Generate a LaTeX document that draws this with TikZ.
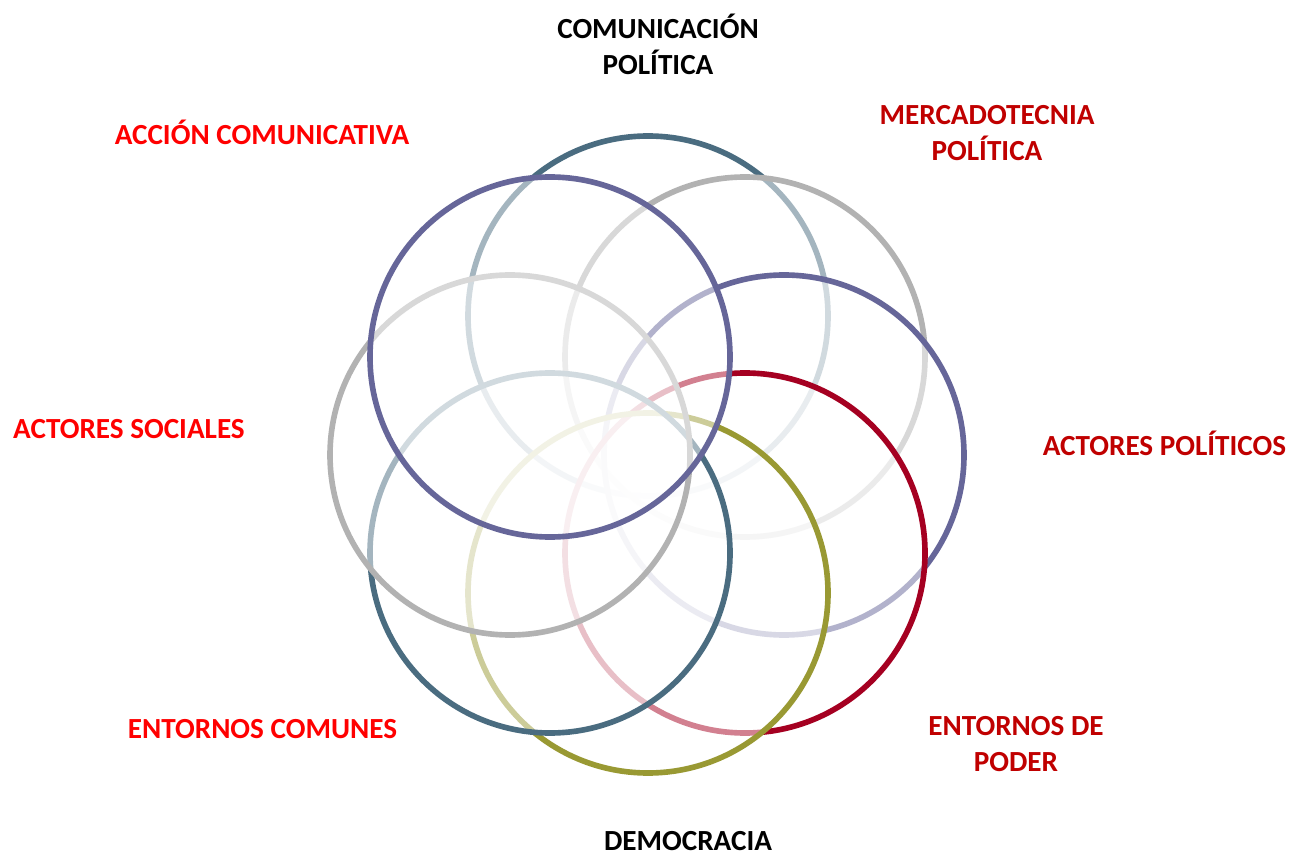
\documentclass[tikz,border=0pt]{standalone}
\usepackage{fontspec}
\setmainfont{Carlito}
\definecolor{ringteal}{RGB}{74,108,128}
\definecolor{ringgray}{RGB}{178,178,178}
\definecolor{ringpurple}{RGB}{102,102,153}
\definecolor{ringred}{RGB}{165,0,33}
\definecolor{ringolive}{RGB}{153,153,51}
\definecolor{labelred}{RGB}{255,0,0}
\definecolor{labeldark}{RGB}{192,0,0}
\usetikzlibrary{positioning}

\tikzset{
  ring/.style={circle, minimum size=3.6cm, inner sep=0pt, line width=1.6pt,
    fill=white, fill opacity=0.5, draw=#1},
  tag/.style={font=\fontsize{8.3}{10.2}\selectfont\bfseries, align=center, inner sep=0pt}
}

\begin{document}
\begin{tikzpicture}
    \useasboundingbox (0,0) rectangle (13.02,8.57);

    % rings, drawn clockwise from the top
    \node[ring=ringteal]   (comunicacion) at (6.48,5.41) {};
    \node[ring=ringgray]   (mercadotecnia) at (7.45,5.0) {};
    \node[ring=ringpurple] (politicos) at (7.84,4.02) {};
    \node[ring=ringred]    (poder) at (7.45,3.04) {};
    \node[ring=ringolive]  (democracia) at (6.48,2.64) {};
    \node[ring=ringteal]   (comunes) at (5.5,3.04) {};
    \node[ring=ringgray]   (sociales) at (5.1,4.02) {};
    \node[ring=ringpurple] (accion) at (5.5,5.0) {};

    % labels
    \node[tag, black] (t-comunicacion) at (6.58,8.13) {COMUNICACIÓN\\POLÍTICA};
    \node[tag, labeldark] (t-mercadotecnia) at (9.87,7.24) {MERCADOTECNIA\\POLÍTICA};
    \node[tag, labelred] (t-accion) at (2.62,7.25) {ACCIÓN COMUNICATIVA};
    \node[tag, labelred] (t-sociales) at (1.29,4.28) {ACTORES SOCIALES};
    \node[tag, labeldark] (t-politicos) at (11.645,4.14) {ACTORES POLÍTICOS};
    \node[tag, labelred] (t-comunes) at (2.625,1.28) {ENTORNOS COMUNES};
    \node[tag, labeldark] (t-poder) at (10.16,1.13) {ENTORNOS DE\\PODER};
    \node[tag, black] (t-democracia) at (6.88,0.16) {DEMOCRACIA};
\end{tikzpicture}
\end{document}
